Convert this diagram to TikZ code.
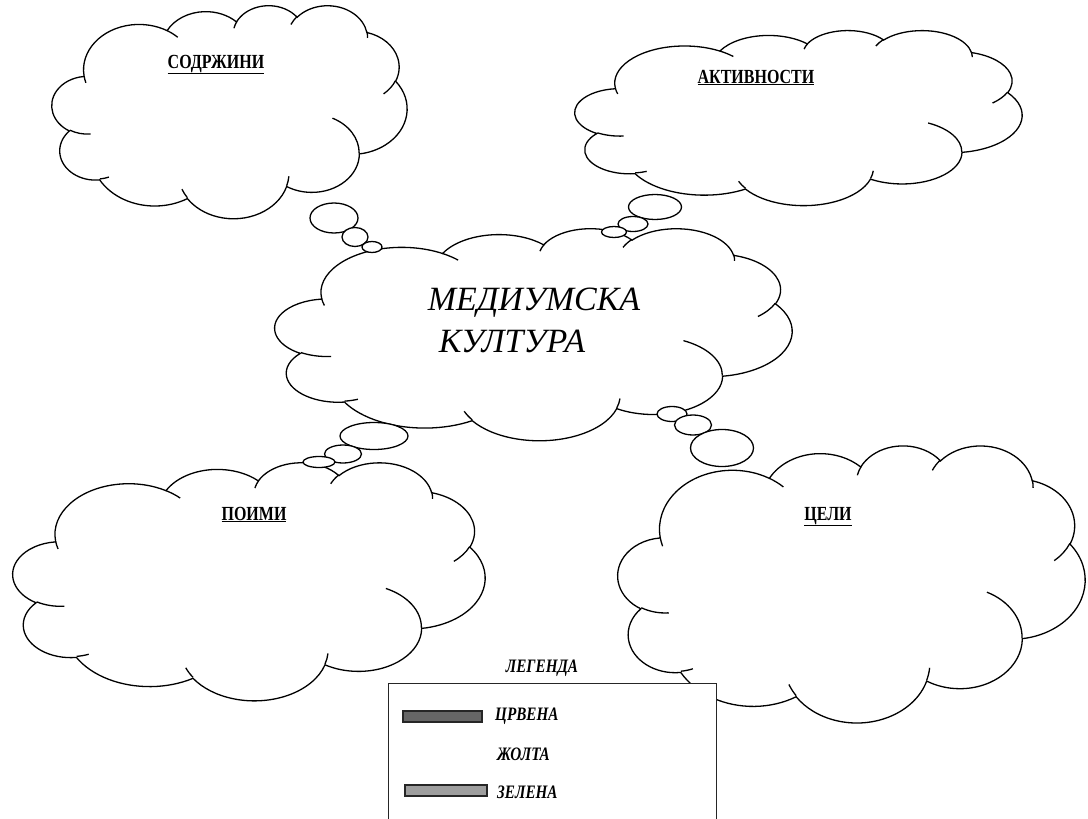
\documentclass[tikz,border=0pt]{standalone}
\usepackage{fontspec}
\setmainfont{Liberation Serif}
\newfontfamily\condserif{Liberation Serif}[FakeStretch=0.8]
\usetikzlibrary{shapes.geometric}

% Office "cloud" outline: visual angles converted to parametric angles
\newcommand\wcdef[5]{%
  \pgfmathsetmacro\wctmpa{atan2((#2)*sin(#4),(#3)*cos(#4))}%
  \pgfmathsetmacro\wctmpb{atan2((#2)*sin((#4)+(#5)),(#3)*cos((#4)+(#5)))}%
  \pgfmathsetmacro\wctmpb{(\wctmpa)+mod((\wctmpb)-(\wctmpa)+720,360)}%
  \expandafter\global\expandafter\let\csname wc#1s\endcsname\wctmpa
  \expandafter\global\expandafter\let\csname wc#1e\endcsname\wctmpb}
\wcdef{A}{6.753}{9.19}{-190.48748}{123.78053}
\wcdef{B}{5.333}{7.267}{-144.10238}{89.94523}
\wcdef{C}{4.365}{5.945}{-145.80792}{99.72302}
\wcdef{D}{4.857}{6.595}{-130.98607}{117.24173}
\wcdef{E}{5.333}{7.273}{-78.70888}{109.02692}
\wcdef{F}{6.775}{9.22}{-46.26725}{130.269}
\wcdef{G}{5.785}{7.867}{0.62502}{114.03333}
\wcdef{H}{6.752}{9.215}{22.4516}{115.17255}
\wcdef{I}{7.72}{10.543}{66.24263}{75.71102}
\wcdef{J}{4.36}{5.918}{-274.94208}{146.73557}
\wcdef{K}{4.345}{5.945}{-246.8285}{152.51885}
\wcdef{a}{4.345}{5.945}{86.742}{26.4295}
\wcdef{b}{4.36}{5.918}{73.61047}{11.44747}
\wcdef{c}{6.752}{9.215}{137.62415}{14.0811}
\wcdef{d}{6.752}{9.215}{6.45327}{15.99835}
\wcdef{e}{5.785}{7.867}{-70.29235}{70.91737}
\wcdef{f}{5.333}{7.273}{30.31803}{27.7515}
\wcdef{g}{4.857}{6.595}{-13.74433}{14.8589}
\wcdef{h}{4.857}{6.595}{-149.18145}{18.19537}
\wcdef{i}{4.365}{5.945}{-163.49427}{17.68635}
\wcdef{j}{6.753}{9.19}{-66.70695}{12.31935}
\wcdef{k}{6.753}{9.19}{157.65435}{11.85817}

\newcommand\wordcloud[4]{%
  \pgfmathsetmacro\wcw{(#3)/43.2}%
  \pgfmathsetmacro\wch{-(#4)/43.2}%
  \begin{scope}[shift={(#1,#2)},x=\wcw pt,y=\wch pt]
    \draw[cloudline,fill=white] (3.9,14.37)
      arc[start angle=\wcAs,end angle=\wcAe,x radius=6.753,y radius=9.19]
      arc[start angle=\wcBs,end angle=\wcBe,x radius=5.333,y radius=7.267]
      arc[start angle=\wcCs,end angle=\wcCe,x radius=4.365,y radius=5.945]
      arc[start angle=\wcDs,end angle=\wcDe,x radius=4.857,y radius=6.595]
      arc[start angle=\wcEs,end angle=\wcEe,x radius=5.333,y radius=7.273]
      arc[start angle=\wcFs,end angle=\wcFe,x radius=6.775,y radius=9.22]
      arc[start angle=\wcGs,end angle=\wcGe,x radius=5.785,y radius=7.867]
      arc[start angle=\wcHs,end angle=\wcHe,x radius=6.752,y radius=9.215]
      arc[start angle=\wcIs,end angle=\wcIe,x radius=7.72,y radius=10.543]
      arc[start angle=\wcJs,end angle=\wcJe,x radius=4.36,y radius=5.918]
      arc[start angle=\wcKs,end angle=\wcKe,x radius=4.345,y radius=5.945]
      -- cycle;
    \draw[cloudline]
      (4.693,26.177) arc[start angle=\wcas,end angle=\wcae,x radius=4.345,y radius=5.945]
      (6.928,34.899) arc[start angle=\wcbs,end angle=\wcbe,x radius=4.36,y radius=5.918]
      (16.478,39.09) arc[start angle=\wccs,end angle=\wcce,x radius=6.752,y radius=9.215]
      (28.827,34.751) arc[start angle=\wcds,end angle=\wcde,x radius=6.752,y radius=9.215]
      (34.129,22.954) arc[start angle=\wces,end angle=\wcee,x radius=5.785,y radius=7.867]
      (41.798,15.354) arc[start angle=\wcfs,end angle=\wcfe,x radius=5.333,y radius=7.273]
      (38.324,5.426) arc[start angle=\wcgs,end angle=\wcge,x radius=4.857,y radius=6.595]
      (29.078,3.952) arc[start angle=\wchs,end angle=\wche,x radius=4.857,y radius=6.595]
      (22.141,4.72) arc[start angle=\wcis,end angle=\wcie,x radius=4.365,y radius=5.945]
      (14.0,5.192) arc[start angle=\wcjs,end angle=\wcje,x radius=6.753,y radius=9.19]
      (4.127,15.789) arc[start angle=\wcks,end angle=\wcke,x radius=6.753,y radius=9.19];
  \end{scope}}

\tikzset{
  cloudline/.style={draw=black,line width=1.3pt},
  bubble/.style={ellipse,draw=black,line width=1.3pt,fill=white,inner sep=0pt},
  cloudlabel/.style={anchor=base,inner sep=0pt,font=\condserif\bfseries\fontsize{20}{24}\selectfont},
  maintext/.style={anchor=base,inner sep=0pt,font=\itshape\fontsize{34}{40}\selectfont},
  legendtext/.style={anchor=base west,inner sep=0pt,font=\condserif\bfseries\itshape\fontsize{19}{22}\selectfont},
  legendbar/.style={draw=black!85,line width=1.6pt,inner sep=0pt,minimum height=11pt}
}

\begin{document}
\begin{tikzpicture}[x=1pt,y=-1pt]
\useasboundingbox (0,0) rectangle (1088,819);
\fill[white] (0,0) rectangle (1088,819);
\clip (0,0) rectangle (1088,819);

% clouds (x, y, width, height of the box)
\wordcloud{52}{5}{355}{213}
\wordcloud{575}{30}{447}{175}
\wordcloud{275}{228}{517}{212}
\wordcloud{13}{462}{472}{238}
\wordcloud{618}{445}{467}{277}

% thought bubbles
\node[bubble,minimum width=48pt,minimum height=30pt] (tl1) at (334,218) {};
\node[bubble,minimum width=26pt,minimum height=19pt] (tl2) at (355,237) {};
\node[bubble,minimum width=20pt,minimum height=11pt] (tl3) at (372,247) {};

\node[bubble,minimum width=53pt,minimum height=25pt] (tr1) at (655,207) {};
\node[bubble,minimum width=30pt,minimum height=15pt] (tr2) at (633,224) {};
\node[bubble,minimum width=25pt,minimum height=11pt] (tr3) at (614,232) {};

\node[bubble,minimum width=68pt,minimum height=27pt] (bl1) at (374,436) {};
\node[bubble,minimum width=37pt,minimum height=18pt] (bl2) at (343,454) {};
\node[bubble,minimum width=32pt,minimum height=11pt] (bl3) at (319,462) {};

\node[bubble,minimum width=30pt,minimum height=15pt] (br3) at (672,414) {};
\node[bubble,minimum width=37pt,minimum height=20pt] (br2) at (693,425) {};
\node[bubble,minimum width=63pt,minimum height=37pt] (br1) at (722,448) {};

% labels
\node[cloudlabel] (sodrzini) at (216,68) {\underline{СОДРЖИНИ}};
\node[cloudlabel] (aktivnosti) at (756,83) {\underline{АКТИВНОСТИ}};
\node[cloudlabel] (poimi) at (254,520) {\underline{ПОИМИ}};
\node[cloudlabel] (celi) at (828,520) {\underline{ЦЕЛИ}};
\node[maintext] (medium) at (534,310) {МЕДИУМСКА};
\node[maintext] (kultura) at (512,352) {КУЛТУРА};

% legend
\node[legendtext,anchor=base] (legenda) at (542,672) {ЛЕГЕНДА};
\node[draw=black!85,line width=1.3pt,fill=white,minimum width=328pt,minimum height=170pt,anchor=north west,inner sep=0pt] (legend) at (388,683) {};
\node[legendbar,fill=black!60,minimum width=79pt] (redbar) at (442.5,716.5) {};
\node[legendtext] (crvena) at (495,720) {ЦРВЕНА};
\node[legendtext] (zolta) at (497,760) {ЖОЛТА};
\node[legendbar,fill=black!38,minimum width=82pt] (greenbar) at (446,790.5) {};
\node[legendtext] (zelena) at (497,798) {ЗЕЛЕНА};
\end{tikzpicture}
\end{document}
